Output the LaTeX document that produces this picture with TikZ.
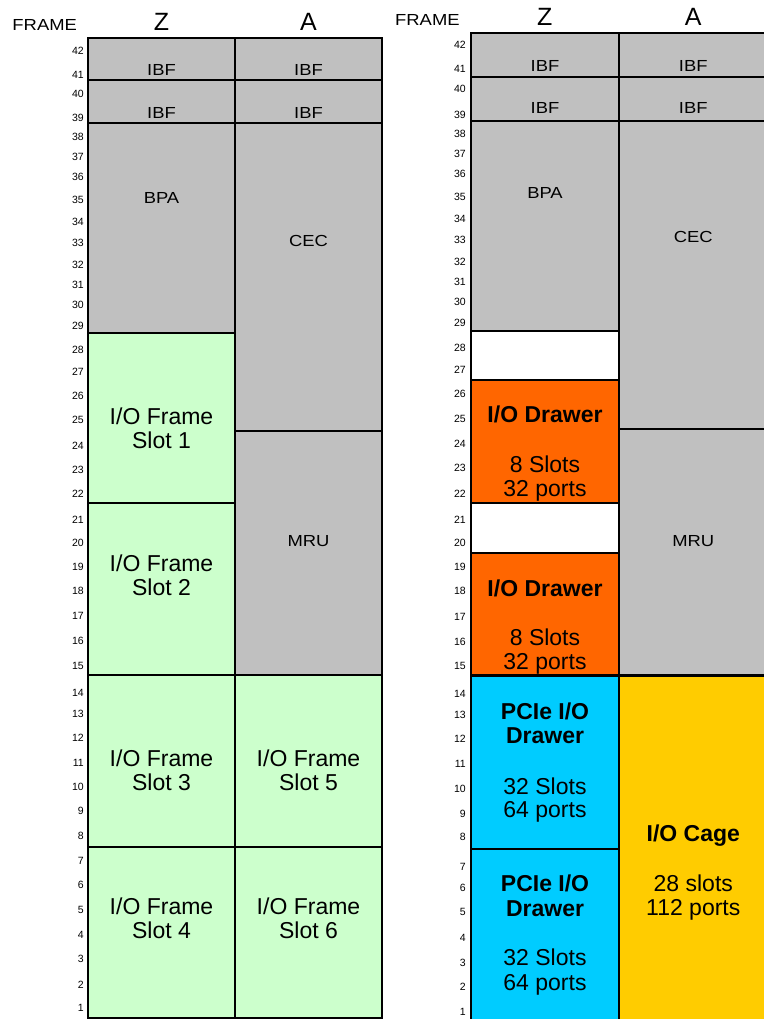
\documentclass[tikz,border=0pt]{standalone}
\usepackage{fontspec}
\setmainfont{Liberation Sans}
\newfontfamily\widefont[FakeStretch=1.15]{Liberation Sans}
\definecolor{grayb}{HTML}{C0C0C0}
\definecolor{greenb}{HTML}{CCFFCC}
\definecolor{orangeb}{HTML}{FF6600}
\definecolor{cyanb}{HTML}{00CCFF}
\definecolor{goldb}{HTML}{FFCC00}
\begin{document}
\begin{tikzpicture}[x=1pt,y=-1pt,
  box/.style={draw=black, line width=2.2pt},
  num/.style={anchor=east, inner sep=0pt, font=\fontsize{10.5}{12}\selectfont},
  small/.style={anchor=base, inner sep=0pt, font=\widefont\fontsize{16}{19}\selectfont},
  frm/.style={anchor=base west, inner sep=0pt, font=\widefont\fontsize{16}{19}\selectfont},
  hdr/.style={anchor=base, inner sep=0pt, font=\fontsize{25}{28}\selectfont},
  big/.style={anchor=base, inner sep=0pt, font=\fontsize{23}{26}\selectfont},
  bigb/.style={anchor=base, inner sep=0pt, font=\bfseries\fontsize{23}{26}\selectfont}]
\useasboundingbox (0,0) rectangle (763,1019);
% ---------- left frame ----------
\path[box, fill=grayb] (88,37.7) rectangle (235,80.3);
\path[box, fill=grayb] (235,37.7) rectangle (382,80.3);
\path[box, fill=grayb] (88,80.3) rectangle (235,123.3);
\path[box, fill=grayb] (235,80.3) rectangle (382,123.3);
\path[box, fill=grayb] (88,123.3) rectangle (235,332.7);
\path[box, fill=grayb] (235,123.3) rectangle (382,430.7);
\path[box, fill=grayb] (235,430.7) rectangle (382,674.7);
\path[box, fill=greenb] (88,332.7) rectangle (235,503.3);
\path[box, fill=greenb] (88,503.3) rectangle (235,674.7);
\path[box, fill=greenb] (88,674.7) rectangle (235,847);
\path[box, fill=greenb] (235,674.7) rectangle (382,847);
\path[box, fill=greenb] (88,847) rectangle (235,1017.7);
\path[box, fill=greenb] (235,847) rectangle (382,1017.7);
% ---------- right frame ----------
\path[box, fill=grayb] (471,32.7) rectangle (619,76.7);
\path[box, fill=grayb] (619,32.7) rectangle (768,76.7);
\path[box, fill=grayb] (471,76.7) rectangle (619,121);
\path[box, fill=grayb] (619,76.7) rectangle (768,121);
\path[box, fill=grayb] (471,121) rectangle (619,330.7);
\path[box, fill=white] (471,330.7) rectangle (619,380);
\path[box, fill=orangeb] (471,380) rectangle (619,503.3);
\path[box, fill=white] (471,503.3) rectangle (619,552.7);
\path[box, fill=orangeb] (471,552.7) rectangle (619,675.5);
\path[box, fill=cyanb] (471,675.5) rectangle (619,848.7);
\path[box, fill=cyanb] (471,848.7) rectangle (619,1022);
\path[box, fill=grayb] (619,121) rectangle (768,429.3);
\path[box, fill=grayb] (619,429.3) rectangle (768,675.5);
\path[box, fill=goldb] (619,675.5) rectangle (768,1022);
% ---------- headers ----------
\node[frm] (lframe) at (12.3,30.7) {FRAME};
\node[hdr] (lz) at (161.5,30.7) {Z};
\node[hdr] (la) at (308.5,30.7) {A};
\node[frm] (rframe) at (395,26) {FRAME};
\node[hdr] (rz) at (544.7,26) {Z};
\node[hdr] (ra) at (693.3,26) {A};
% ---------- unit numbers ----------
\foreach \n/\y in {42/51.3,41/75.2,40/94.3,39/118.3,38/137,37/157,36/177,35/199.7,34/221.7,33/243,32/264.7,31/284.7,30/305.3,29/326.3,28/350.3,27/372,26/396.3,25/420.3,24/446.3,23/470.3,22/494.3,21/520,20/543,19/567,18/591,17/616,16/641,15/665.8,14/693,13/713.7,12/737.5,11/763,10/787,9/811,8/836,7/861,6/885,5/910,4/935,3/959.3,2/985,1/1008.3}
  \node[num] (lnum\n) at (84,\y) {\n};
\foreach \n/\y in {42/45.3,41/68.7,40/88.7,39/115,38/134,37/154,36/174,35/197,34/219,33/240,32/262,31/282,30/302,29/322.8,28/348,27/369.7,26/393.7,25/419.3,24/443.7,23/468,22/493.7,21/519.7,20/543,19/567,18/591.3,17/617,16/642,15/666,14/694.3,13/715,12/738.7,11/763.7,10/789.3,9/813.7,8/837,7/867,6/888,5/912,4/937.7,3/962.7,2/987,1/1012}
  \node[num] (rnum\n) at (466,\y) {\n};
% ---------- left labels ----------
\node[small] (libfz1) at (161.5,76) {IBF};
\node[small] (libfa1) at (308.5,76) {IBF};
\node[small] (libfz2) at (161.5,118.3) {IBF};
\node[small] (libfa2) at (308.5,118.3) {IBF};
\node[small] (lbpa) at (161.5,203.3) {BPA};
\node[small] (lcec) at (308.5,246) {CEC};
\node[small] (lmru) at (308.5,546) {MRU};
\node[big] (ls1a) at (161.5,424) {I/O Frame};
\node[big] (ls1b) at (161.5,448.7) {Slot 1};
\node[big] (ls2a) at (161.5,571) {I/O Frame};
\node[big] (ls2b) at (161.5,595.5) {Slot 2};
\node[big] (ls3a) at (161.5,766) {I/O Frame};
\node[big] (ls3b) at (161.5,790.5) {Slot 3};
\node[big] (ls5a) at (308.5,766) {I/O Frame};
\node[big] (ls5b) at (308.5,790.5) {Slot 5};
\node[big] (ls4a) at (161.5,914) {I/O Frame};
\node[big] (ls4b) at (161.5,938.5) {Slot 4};
\node[big] (ls6a) at (308.5,914) {I/O Frame};
\node[big] (ls6b) at (308.5,938.5) {Slot 6};
% ---------- right labels ----------
\node[small] (ribfz1) at (545,71.5) {IBF};
\node[small] (ribfa1) at (693.3,71.5) {IBF};
\node[small] (ribfz2) at (545,113.5) {IBF};
\node[small] (ribfa2) at (693.3,113.5) {IBF};
\node[small] (rbpa) at (545,198.5) {BPA};
\node[small] (rcec) at (693.3,242.5) {CEC};
\node[small] (rmru) at (693.3,546) {MRU};
\node[bigb] (rd1a) at (545,422.7) {I/O Drawer};
\node[big] (rd1b) at (545,472.7) {8 Slots};
\node[big] (rd1c) at (545,496.5) {32 ports};
\node[bigb] (rd2a) at (545,596) {I/O Drawer};
\node[big] (rd2b) at (545,645.7) {8 Slots};
\node[big] (rd2c) at (545,669.5) {32 ports};
\node[bigb] (rp1a) at (545,719) {PCIe I/O};
\node[bigb] (rp1b) at (545,743.3) {Drawer};
\node[big] (rp1c) at (545,794) {32 Slots};
\node[big] (rp1d) at (545,817.7) {64 ports};
\node[bigb] (rp2a) at (545,891) {PCIe I/O};
\node[bigb] (rp2b) at (545,916.7) {Drawer};
\node[big] (rp2c) at (545,965) {32 Slots};
\node[big] (rp2d) at (545,990) {64 ports};
\node[bigb] (rcage) at (693.3,841.7) {I/O Cage};
\node[big] (rcage2) at (693.3,891) {28 slots};
\node[big] (rcage3) at (693.3,915) {112 ports};
\end{tikzpicture}
\end{document}
